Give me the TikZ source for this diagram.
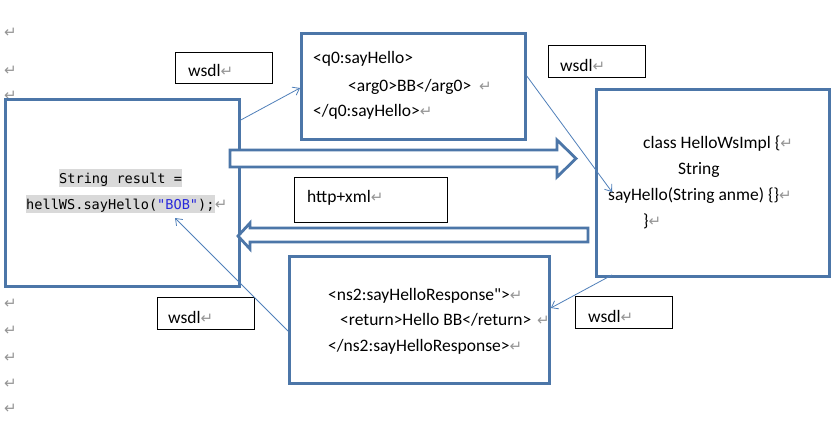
\documentclass[tikz,border=0pt]{standalone}
\usepackage{fontspec}
\setmainfont{Carlito}[Ligatures=TeXOff]
\newfontfamily\symf{DejaVu Sans}[Ligatures=TeXOff]
\newfontfamily\monof{DejaVu Sans Mono}[Ligatures=TeXOff]
\usetikzlibrary{arrows.meta,calc}
\definecolor{boxblue}{RGB}{76,118,168}
\definecolor{lineblue}{RGB}{80,128,186}
\definecolor{retgray}{RGB}{150,150,150}
\definecolor{hl}{RGB}{217,217,217}
\definecolor{strblue}{RGB}{40,40,220}
\newcommand{\rt}{{\symf\color{retgray}\fontsize{15}{15}\selectfont ↵}}
\tikzset{
  bluebox/.style={draw=boxblue, line width=2.8pt, fill=white, anchor=north west, inner sep=0pt},
  labbox/.style={draw=black, line width=0.9pt, fill=white, anchor=north west, inner sep=0pt},
  blockarrow/.style={draw=boxblue, line width=2.8pt, fill=white, line join=miter},
  conn/.style={draw=lineblue, line width=0.8pt, -{Straight Barb[length=6pt,width=9pt,line width=0.8pt]}},
  txt/.style={anchor=base west, inner sep=0pt, font=\fontsize{17.5}{20}\selectfont},
  code/.style={anchor=base west, inner sep=0pt, fill=hl, text height=14pt, text depth=4pt, font=\monof\fontsize{13.6}{16}\selectfont},
  ret/.style={anchor=base west, inner sep=0pt}
}
\begin{document}
\begin{tikzpicture}[x=1pt,y=-1pt]
\useasboundingbox[fill=white] (0,0) rectangle (840,437);
% margin paragraph marks
\foreach \yy [count=\i] in {37,75,100,308,335,362,388,413}
  \node[ret] (m\i) at (4,\yy) {\rt};
% boxes
\node[bluebox, minimum width=234pt, minimum height=187pt] (L) at (4,98) {};
\node[bluebox, minimum width=224pt, minimum height=106pt] (T) at (300,32) {};
\node[bluebox, minimum width=233pt, minimum height=187pt] (R) at (595,88) {};
\node[bluebox, minimum width=260pt, minimum height=127pt] (B) at (288,255) {};
\node[labbox, minimum width=97pt, minimum height=31pt] (W1) at (175,52) {};
\node[labbox, minimum width=97pt, minimum height=32pt] (W2) at (548,45) {};
\node[labbox, minimum width=97pt, minimum height=32pt] (W3) at (157,297) {};
\node[labbox, minimum width=97pt, minimum height=32pt] (W4) at (575,296) {};
\node[labbox, minimum width=153pt, minimum height=45pt] (H) at (294,177) {};
% block arrows
\draw[blockarrow] (230,150) -- (557,150) -- (557,140) -- (576,158.5) -- (557,177) -- (557,167) -- (230,167) -- cycle;
\draw[blockarrow] (588,228) -- (250,228) -- (250,223) -- (238,236) -- (250,249) -- (250,242) -- (588,242) -- cycle;
% texts: left code box
\node[code] (c1) at (59,183) {String result = };
\node[code] (c2) at (26,209) {hellWS.sayHello(\textcolor{strblue}{"BOB"});};
\node[ret] (c2r) at (c2.base east) {\rt};
% top box
\node[txt] (t1) at (313,63) {<q0:sayHello>};
\node[txt] (t2) at (348,91) {<arg0>BB</arg0>};
\node[ret] (t2r) at (479,91) {\rt};
\node[txt] (t3) at (313,116) {</q0:sayHello>\rt};
% right box
\node[txt] (r1) at (643,148) {class HelloWsImpl \{\rt};
\node[txt] (r2) at (678,174) {String};
\node[txt] (r3) at (608,200) {sayHello(String anme) \{\}\rt};
\node[txt] (r4) at (643,226) {\}\rt};
% bottom box
\node[txt] (b1) at (328,300) {<ns2:sayHelloResponse">\rt};
\node[txt] (b2) at (340,325) {<return>Hello BB</return>};
\node[ret] (b2r) at (537,325) {\rt};
\node[txt] (b3) at (328,351) {</ns2:sayHelloResponse>\rt};
% labels
\node[txt] (w1t) at (188,76) {wsdl\rt};
\node[txt] (w2t) at (560,71) {wsdl\rt};
\node[txt] (w3t) at (168,323) {wsdl\rt};
\node[txt] (w4t) at (588,322) {wsdl\rt};
\node[txt] (ht) at (307,202) {http+xml\rt};
% connectors
\draw[conn] (L.north east |- 0,120) -- (T.north west |- 0,88);
\draw[conn] (T.north east |- 0,76) -- ($(r3.base west)+(4,-8)$);
\draw[conn] (612,275) -- (B.north east |- 0,308);
\draw[conn] (B.north west |- 0,331) -- ($(c2.base west)+(149,9)$);
\end{tikzpicture}
\end{document}
